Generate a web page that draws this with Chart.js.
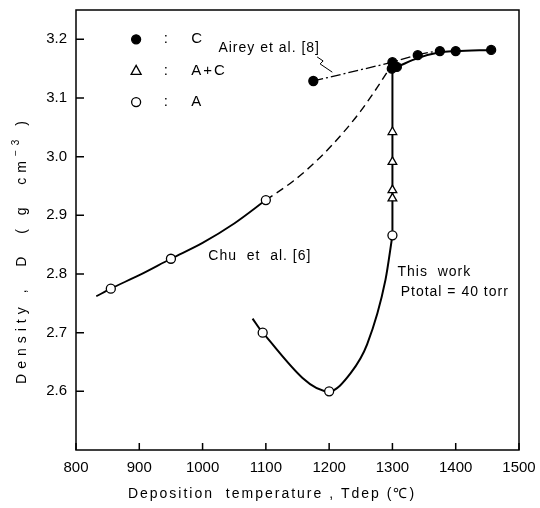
<!DOCTYPE html>
<html>
<head>
<meta charset="utf-8">
<script src="https://cdn.jsdelivr.net/npm/chart.js@4"></script>
<style>
html, body { margin: 0; padding: 0; background: #fff; }
</style>
</head>
<body>
<canvas id="densityChart" width="540" height="508"></canvas>
<script>
// tick labels
const tempTicks = [800, 900, 1000, 1100, 1200, 1300, 1400, 1500];
const densTicks = [2.6, 2.7, 2.8, 2.9, 3.0, 3.1, 3.2];

const amorphT = [855, 950, 1100, 1095, 1200, 1300]; // A, open circles
const amorphD = [2.775, 2.826, 2.926, 2.700, 2.600, 2.866];
const mixedT = [1300, 1300, 1300, 1300]; // A+C, triangles
const mixedD = [3.042, 2.991, 2.943, 2.929];
const crystT = [1175, 1300, 1299, 1307, 1340, 1375, 1400, 1456]; // C, filled circles
const crystD = [3.129, 3.161, 3.150, 3.153, 3.173, 3.180, 3.180, 3.182];

// traced curves
const chuSolidT = [832, 855, 900, 950, 1000, 1050, 1100];
const chuSolidD = [2.762, 2.775, 2.798, 2.826, 2.853, 2.886, 2.926];
const chuDashT = [1100, 1144, 1186, 1223, 1250, 1276, 1298];
const chuDashD = [2.926, 2.959, 2.999, 3.042, 3.078, 3.118, 3.155];
const workT = [1079, 1095, 1200, 1234, 1260, 1289, 1300];
const workD = [2.724, 2.700, 2.600, 2.631, 2.680, 2.790, 2.866];
const riseT = [1300, 1300];
const riseD = [2.866, 3.150];
const crystLineT = [1300, 1307, 1340, 1375, 1400, 1456];
const crystLineD = [3.150, 3.153, 3.168, 3.178, 3.180, 3.182];
const aireyT = [1175, 1300, 1340, 1375];
const aireyD = [3.129, 3.161, 3.174, 3.181];

function pts(xs, ys) {
	return xs.map((x, i) => ({ x: x, y: ys[i] }));
}

const FONT = "'Liberation Sans', Arial, sans-serif";

function curve(xs, ys, width, dash, smooth) {
	return {
		type: 'scatter',
		data: pts(xs, ys),
		showLine: true,
		borderColor: '#000',
		borderWidth: width,
		borderDash: dash,
		pointRadius: 0,
		cubicInterpolationMode: smooth ? 'monotone' : 'default',
		tension: 0,
		order: 2
	};
}

function markers(xs, ys, style, fill) {
	return {
		type: 'scatter',
		data: pts(xs, ys),
		showLine: false,
		pointStyle: style,
		pointRadius: style === 'triangle' ? 5 : 4.5,
		pointBackgroundColor: fill,
		pointBorderColor: '#000',
		pointBorderWidth: 1.3,
		order: 0
	};
}

// frame, inward ticks, titles, legend and labels
const decor = {
	id: 'decor',
	afterDatasetsDraw(chart) {
		const ctx = chart.ctx;
		const a = chart.chartArea;
		const sx = chart.scales.x, sy = chart.scales.y;
		ctx.save();
		ctx.strokeStyle = '#000';
		ctx.lineWidth = 1.5;
		ctx.strokeRect(a.left, a.top, a.right - a.left, a.bottom - a.top);
		ctx.beginPath();
		tempTicks.forEach(v => {
			const px = sx.getPixelForValue(v);
			ctx.moveTo(px, a.bottom);
			ctx.lineTo(px, a.bottom - 7);
		});
		densTicks.forEach(v => {
			const py = sy.getPixelForValue(v);
			ctx.moveTo(a.left, py);
			ctx.lineTo(a.left + 8, py);
		});
		ctx.stroke();

		// legend
		ctx.fillStyle = '#000';
		ctx.font = '15px ' + FONT;
		ctx.textBaseline = 'middle';
		const rows = [['circle', '#000', 'C', 3.200], ['triangle', '#fff', 'A+C', 3.147], ['circle', '#fff', 'A', 3.093]];
		rows.forEach(r => {
			const y = sy.getPixelForValue(r[3]);
			const x = sx.getPixelForValue(895);
			ctx.lineWidth = 1.3;
			ctx.beginPath();
			if (r[0] === 'circle') {
				ctx.arc(x, y, 4.5, 0, Math.PI * 2);
			} else {
				ctx.moveTo(x, y - 5);
				ctx.lineTo(x + 5, y + 4);
				ctx.lineTo(x - 5, y + 4);
				ctx.closePath();
			}
			ctx.fillStyle = r[1];
			ctx.fill();
			ctx.stroke();
			ctx.fillStyle = '#000';
			ctx.textAlign = 'center';
			ctx.fillText(':', sx.getPixelForValue(942), y);
			ctx.textAlign = 'left';
			ctx.letterSpacing = '2px';
			ctx.fillText(r[2], sx.getPixelForValue(982), y);
			ctx.letterSpacing = '0px';
		});

		// annotations
		ctx.font = '14px ' + FONT;
		ctx.textAlign = 'left';
		ctx.letterSpacing = '1px';
		ctx.fillText('Airey et al. [8]', sx.getPixelForValue(1025), sy.getPixelForValue(3.185));
		ctx.fillText('Chu  et  al. [6]', sx.getPixelForValue(1009), sy.getPixelForValue(2.831));
		ctx.fillText('This  work', sx.getPixelForValue(1308), sy.getPixelForValue(2.804));
		ctx.fillText('Ptotal = 40 torr', sx.getPixelForValue(1313), sy.getPixelForValue(2.769));
		ctx.letterSpacing = '0px';

		// leader for Airey label
		const lx = sx.getPixelForValue(1181), ly = sy.getPixelForValue(3.170);
		const ex = sx.getPixelForValue(1205), ey = sy.getPixelForValue(3.144);
		ctx.lineWidth = 1;
		ctx.beginPath();
		ctx.moveTo(lx, ly);
		ctx.lineTo(lx + 6, ly + 4);
		ctx.lineTo(lx + 3, ly + 7);
		ctx.lineTo(ex, ey);
		ctx.stroke();

		// x axis title
		ctx.font = '14px ' + FONT;
		ctx.textAlign = 'center';
		ctx.letterSpacing = '2px';
		ctx.fillText('Deposition  temperature , Tdep (\u2103)', 272, 494);

		// y axis title, rotated, with superscript
		ctx.translate(22, 250);
		ctx.rotate(-Math.PI / 2);
		ctx.letterSpacing = '5px';
		const parts = [['Density ,  D  ( g  cm', 14, 0], ['\u22123', 10, -6], [' )', 14, 0]];
		let total = 0;
		parts.forEach(p => { ctx.font = p[1] + 'px ' + FONT; total += ctx.measureText(p[0]).width; });
		let cx = -total / 2;
		ctx.textAlign = 'left';
		parts.forEach(p => {
			ctx.font = p[1] + 'px ' + FONT;
			ctx.fillText(p[0], cx, p[2]);
			cx += ctx.measureText(p[0]).width;
		});
		ctx.restore();
	}
};

const densityChart = new Chart(document.getElementById('densityChart').getContext('2d'), {
	type: 'scatter',
	data: {
		datasets: [
			markers(amorphT, amorphD, 'circle', '#fff'),
			markers(mixedT, mixedD, 'triangle', '#fff'),
			markers(crystT, crystD, 'circle', '#000'),
			curve(chuSolidT, chuSolidD, 1.8, [], true),
			curve(chuDashT, chuDashD, 1.4, [8, 5], true),
			curve(workT, workD, 2, [], true),
			curve(riseT, riseD, 2, [], false),
			curve(crystLineT, crystLineD, 2, [], true),
			curve(aireyT, aireyD, 1.3, [10, 3, 2, 3], false)
		]
	},
	options: {
		responsive: false,
		animation: false,
		devicePixelRatio: 1,
		layout: { padding: { top: 9, right: 21, left: 0, bottom: 0 } },
		plugins: { legend: { display: false }, tooltip: { enabled: false } },
		scales: {
			x: {
				type: 'linear', min: 800, max: 1500,
				afterBuildTicks: s => { s.ticks = tempTicks.map(v => ({ value: v })); },
				afterFit: s => { s.height = 58; },
				grid: { display: false },
				border: { display: false },
				ticks: { color: '#000', padding: 1, font: { family: FONT, size: 15 }, callback: v => String(v) }
			},
			y: {
				type: 'linear', min: 2.5, max: 3.25,
				afterBuildTicks: s => { s.ticks = densTicks.map(v => ({ value: v })); },
				afterFit: s => { s.width = 76; },
				grid: { display: false },
				border: { display: false },
				ticks: { color: '#000', padding: 1, font: { family: FONT, size: 15 }, callback: v => v.toFixed(1) }
			}
		}
	},
	plugins: [decor]
});
</script>
</body>
</html>
